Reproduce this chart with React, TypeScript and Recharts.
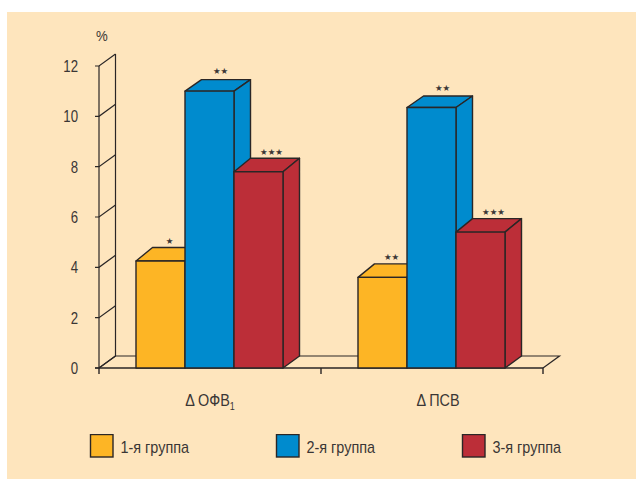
import React from "react";
import { BarChart, Bar, XAxis, YAxis, LabelList, Legend, usePlotArea } from "recharts";

const categories = ["Δ ОФВ", "Δ ПСВ"];
const subscripts = ["1", ""];
const group1 = [4.25, 3.6];
const group2 = [11.0, 10.35];
const group3 = [7.8, 5.4];
const stars1 = ["★", "★★"];
const stars2 = ["★★", "★★"];
const stars3 = ["★★★", "★★★"];
const yTicks = [0, 2, 4, 6, 8, 10, 12];
const seriesNames = ["1-я группа", "2-я группа", "3-я группа"];

const rows = categories.map((name, i) => ({
  name,
  sub: subscripts[i],
  g1: group1[i],
  g2: group2[i],
  g3: group3[i],
  s1: stars1[i],
  s2: stars2[i],
  s3: stars3[i],
}));

const FONT = '"Liberation Sans", sans-serif';
const INK = "#2a2626";
const TEXT = "#3a3635";
const PANEL = "#fee5bd";
const DX = 16.5;
const DY = 12;

// Text squeezed horizontally to get a narrow grotesque look.
function NarrowText({ x, y, size, squeeze, anchor, children }: any) {
  return (
    <text
      transform={`translate(${x},${y}) scale(${squeeze},1)`}
      textAnchor={anchor}
      fontFamily={FONT}
      fontSize={size}
      fill={TEXT}
    >
      {children}
    </text>
  );
}

// Extruded box: front face, top face and right side. The top face may rise a
// little more than the floor edge of the side.
function Box3D(props: any) {
  const { x, y, width, height, fill, rise = DY } = props;
  const r = x + width;
  const b = y + height;
  return (
    <g stroke={INK} strokeWidth={1.4} strokeLinejoin="round" fill={fill}>
      <path d={`M${x},${y} L${x + DX},${y - rise} L${r + DX},${y - rise} L${r},${y} Z`} />
      <path d={`M${r},${y} L${r + DX},${y - rise} L${r + DX},${b - DY} L${r},${b} Z`} />
      <rect x={x} y={y} width={width} height={height} />
    </g>
  );
}

// Left wall edge and floor of the 3D frame, taken from the plot area.
function Frame() {
  const area = usePlotArea();
  if (!area) return null;
  const { x, y, width, height } = area;
  const bottom = y + height;
  const right = x + width;
  return (
    <g>
      <NarrowText x={96} y={41} size={15.5} squeeze={0.85} anchor="start">%</NarrowText>
      <g stroke={INK} strokeWidth={1.2} fill="none">
        <path d={`M${x + DX},${y - DY} V${bottom - DY} H${right + DX} L${right},${bottom}`} />
        <path d={`M${x},${y} V${bottom} M${x},${bottom} L${x + DX},${bottom - DY}`} />
        <path
          d={`M${x - 4},${bottom} H${right} M${x + width / 2},${bottom} v6 M${right},${bottom} v6 M${x},${bottom} v6`}
          strokeWidth={1.4}
        />
      </g>
    </g>
  );
}

function YTick(props: any) {
  const { x, y, payload } = props;
  return (
    <g>
      <path d={`M${x - 4},${y} H${x} l${DX},${-DY}`} stroke={INK} strokeWidth={1.2} fill="none" />
      <NarrowText x={x - 21} y={y + 6} size={16.5} squeeze={0.8} anchor="end">
        {payload.value}
      </NarrowText>
    </g>
  );
}

function XTick(props: any) {
  const { x, y, payload, index } = props;
  const sub = subscripts[index];
  return (
    <NarrowText x={x + (sub ? 0 : 6)} y={y + 36} size={16} squeeze={0.9} anchor="middle">
      {payload.value}
      {sub ? <tspan dy={4} fontSize={10}>{sub}</tspan> : null}
    </NarrowText>
  );
}

function makeStars(offset: number) {
  return (props: any) => {
    const { x, y, width, value } = props;
    return (
      <text
        x={x + width / 2 + offset}
        y={y - 17}
        textAnchor="middle"
        fontFamily='"DejaVu Sans", sans-serif'
        fontSize={8.5}
        fill={TEXT}
      >
        {value}
      </text>
    );
  };
}

function LegendRow(props: any) {
  const lefts = [90, 276, 462];
  return (
    <svg width={636} height={30} style={{ display: "block" }}>
      {(props.payload || []).map((p: any, i: number) => (
        <g key={p.value}>
          <rect x={lefts[i] + 0.5} y={0.5} width={22.5} height={22.5} fill={p.color} stroke={INK} strokeWidth={1.4} />
          <NarrowText x={lefts[i] + 30.5} y={18.5} size={16} squeeze={0.9} anchor="start">
            {p.value}
          </NarrowText>
        </g>
      ))}
    </svg>
  );
}

export default function App() {
  return (
    <div style={{ position: "absolute", left: 0, top: 0, width: 636, height: 479, background: "#fff", overflow: "hidden" }}>
      <div style={{ position: "absolute", left: 7, top: 12, width: 629, height: 467, background: PANEL }} />
      <BarChart
        width={636}
        height={479}
        data={rows}
        barGap={0}
        barCategoryGap={37}
        margin={{ top: 66, right: 93, left: 0, bottom: 25 }}
        style={{ position: "absolute", left: 0, top: 0 }}
      >
        <Frame />
        <XAxis dataKey="name" axisLine={false} tickLine={false} tickSize={0} tick={<XTick />} interval={0} height={40} />
        <YAxis
          domain={[0, 12]}
          ticks={yTicks}
          width={99}
          axisLine={false}
          tickLine={false}
          tickSize={0}
          tick={<YTick />}
          tickMargin={0}
          interval={0}
        />
        <Legend
          content={<LegendRow />}
          verticalAlign="bottom"
          wrapperStyle={{ position: "absolute", left: 0, top: 434, width: 636, height: 46 }}
        />
        <Bar dataKey="g1" name={seriesNames[0]} fill="#fdb525" shape={<Box3D rise={13.5} />} isAnimationActive={false}>
          <LabelList dataKey="s1" content={makeStars(9)} />
        </Bar>
        <Bar dataKey="g2" name={seriesNames[1]} fill="#008bce" shape={<Box3D rise={11.5} />} isAnimationActive={false}>
          <LabelList dataKey="s2" content={makeStars(11)} />
        </Bar>
        <Bar dataKey="g3" name={seriesNames[2]} fill="#bc2e38" shape={<Box3D rise={13.5} />} isAnimationActive={false}>
          <LabelList dataKey="s3" content={makeStars(13)} />
        </Bar>
      </BarChart>
    </div>
  );
}
